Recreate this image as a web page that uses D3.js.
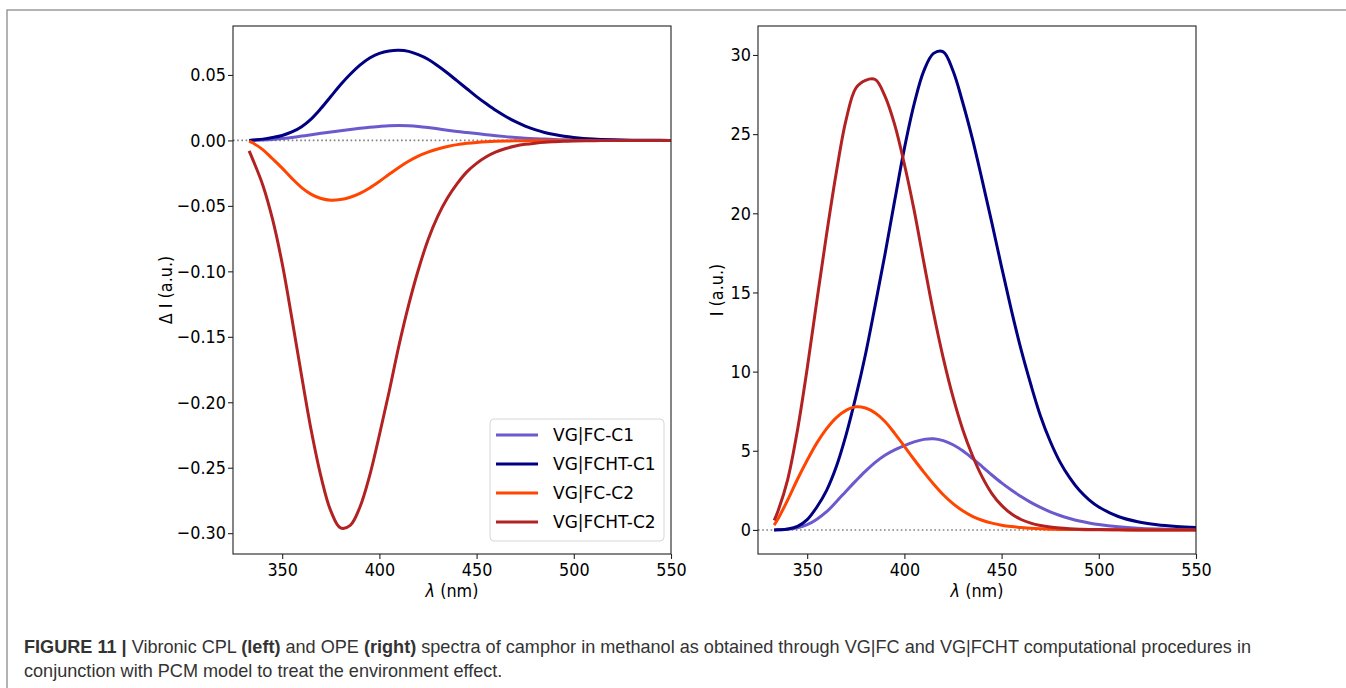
<!DOCTYPE html>
<html>
<head>
<meta charset="utf-8">
<script src="https://cdn.jsdelivr.net/npm/d3@7"></script>
<style>
  body { margin: 0; background: #fff; }
  svg { display: block; }
  .tick text { font-family: "DejaVu Sans", sans-serif; font-size: 18px; fill: #000; }
  .axis-label { font-family: "DejaVu Sans", sans-serif; font-size: 18px; fill: #000; }
  .legend text { font-family: "DejaVu Sans", sans-serif; font-size: 17px; fill: #000; }
  .caption { font-family: "Liberation Sans", Arial, sans-serif; font-size: 18.1px; fill: #333; }
</style>
</head>
<body>
<svg id="chart" width="1346" height="688"></svg>
<script>
// wavelength grid (nm), shared by every series
const wavelength = [333, 335, 340, 345, 350, 355, 360, 365, 370, 375, 380, 385, 390, 395, 400,
  405, 410, 415, 420, 425, 430, 435, 440, 445, 450, 455, 460, 465, 470, 475, 480, 485, 490, 495,
  500, 510, 520, 530, 540, 550];

const seriesNames = ["VG|FC-C1", "VG|FCHT-C1", "VG|FC-C2", "VG|FCHT-C2"];
const seriesColors = ["#6a5acd", "#000080", "#ff4500", "#b22222"];

// left panel: CPL, delta I
const cplFcC1 = [0.0000, 0.0001, 0.0003, 0.0007, 0.0014, 0.0023, 0.0033, 0.0043, 0.0054, 0.0064,
  0.0074, 0.0084, 0.0093, 0.0101, 0.0107, 0.0112, 0.0114, 0.0112, 0.0107, 0.0099, 0.0089, 0.0078,
  0.0068, 0.0060, 0.0052, 0.0044, 0.0036, 0.0029, 0.0022, 0.0017, 0.0013, 0.0010, 0.0007, 0.0005,
  0.0004, 0.0002, 0.0001, 0.0000, 0.0000, 0.0000];
const cplFchtC1 = [0.0000, 0.0003, 0.0010, 0.0022, 0.0038, 0.0065, 0.0105, 0.0165, 0.0245, 0.0335,
  0.0425, 0.0505, 0.0575, 0.0630, 0.0665, 0.0683, 0.0688, 0.0680, 0.0655, 0.0620, 0.0570, 0.0515,
  0.0455, 0.0395, 0.0335, 0.0280, 0.0228, 0.0183, 0.0143, 0.0110, 0.0083, 0.0061, 0.0045, 0.0032,
  0.0023, 0.0011, 0.0005, 0.0002, 0.0001, 0.0000];
const cplFcC2 = [-0.0005, -0.0020, -0.0070, -0.0140, -0.0212, -0.0290, -0.0360, -0.0412, -0.0444,
  -0.0457, -0.0452, -0.0434, -0.0404, -0.0363, -0.0313, -0.0259, -0.0206, -0.0159, -0.0120, -0.0090,
  -0.0066, -0.0047, -0.0032, -0.0022, -0.0015, -0.0010, -0.0007, -0.0005, -0.0003, -0.0002, -0.0001,
  -0.0001, 0.0000, 0.0000, 0.0000, 0.0000, 0.0000, 0.0000, 0.0000, 0.0000];
const cplFchtC2 = [-0.0080, -0.0150, -0.0340, -0.0600, -0.0940, -0.1360, -0.1800, -0.2220, -0.2570,
  -0.2830, -0.2960, -0.2940, -0.2800, -0.2560, -0.2250, -0.1920, -0.1570, -0.1260, -0.0990, -0.0760,
  -0.0580, -0.0440, -0.0330, -0.0240, -0.0175, -0.0125, -0.0088, -0.0062, -0.0043, -0.0030, -0.0021,
  -0.0014, -0.0010, -0.0007, -0.0005, -0.0002, -0.0001, 0.0000, 0.0000, 0.0000];

// right panel: OPE, I
const opeFcC1 = [0.00, 0.01, 0.04, 0.13, 0.33, 0.68, 1.15, 1.78, 2.45, 3.10, 3.72, 4.27, 4.72, 5.06,
  5.33, 5.56, 5.72, 5.76, 5.64, 5.38, 5.00, 4.52, 4.00, 3.47, 2.97, 2.52, 2.11, 1.74, 1.42, 1.14,
  0.91, 0.72, 0.56, 0.44, 0.34, 0.20, 0.11, 0.06, 0.03, 0.02];
const opeFchtC1 = [0.00, 0.01, 0.06, 0.22, 0.65, 1.45, 2.50, 4.00, 6.00, 8.40, 11.1, 14.2, 17.4, 20.8,
  24.1, 26.9, 29.0, 30.1, 30.2, 29.0, 27.0, 24.7, 22.1, 19.4, 16.6, 13.9, 11.4, 9.20, 7.20, 5.60,
  4.30, 3.30, 2.50, 1.90, 1.45, 0.85, 0.52, 0.33, 0.22, 0.15];
const opeFcC2 = [0.30, 0.70, 1.90, 3.20, 4.40, 5.50, 6.40, 7.10, 7.55, 7.78, 7.70, 7.38, 6.85, 6.10,
  5.28, 4.45, 3.65, 2.90, 2.22, 1.66, 1.21, 0.86, 0.61, 0.43, 0.30, 0.21, 0.15, 0.10, 0.07, 0.05,
  0.035, 0.025, 0.02, 0.015, 0.01, 0.005, 0.00, 0.00, 0.00, 0.00];
const opeFchtC2 = [0.60, 1.20, 3.20, 6.30, 10.2, 14.5, 18.7, 22.6, 25.9, 27.9, 28.4, 28.45, 27.4, 25.6,
  23.1, 20.2, 16.9, 13.7, 10.85, 8.40, 6.35, 4.70, 3.35, 2.30, 1.55, 1.02, 0.66, 0.43, 0.28, 0.18,
  0.12, 0.08, 0.05, 0.03, 0.02, 0.01, 0.00, 0.00, 0.00, 0.00];

const xTicks = [350, 400, 450, 500, 550];
const cplTicks = [0.05, 0.00, -0.05, -0.10, -0.15, -0.20, -0.25, -0.30];
const opeTicks = [0, 5, 10, 15, 20, 25, 30];

const captionLine1 = [
  { t: "FIGURE 11 |", b: true }, { t: " Vibronic CPL " }, { t: "(left)", b: true },
  { t: " and OPE " }, { t: "(right)", b: true },
  { t: " spectra of camphor in methanol as obtained through VG|FC and VG|FCHT computational procedures in" }
];
const captionLine2 = "conjunction with PCM model to treat the environment effect.";

// matplotlib text in the picture is a bit narrower than DejaVu
const squeeze = "scale(0.89,1)";

const svg = d3.select("#chart");

// page frame
svg.append("path")
  .attr("d", "M7,688V10H1346")
  .attr("fill", "none")
  .attr("stroke", "#9a9a9a")
  .attr("stroke-width", 1.5);

const plotTop = 26, plotBottom = 554;

function drawPanel(left, right, yDomain, yTicks, yFormat, series, yLabel, labelX, withLegend) {
  const x = d3.scaleLinear().domain([324.7, 550]).range([left, right]);
  const y = d3.scaleLinear().domain(yDomain).range([plotBottom, plotTop]);
  const g = svg.append("g");

  // zero reference line
  g.append("line")
    .attr("x1", left).attr("x2", right)
    .attr("y1", y(0)).attr("y2", y(0))
    .attr("stroke", "#808080")
    .attr("stroke-width", 1.6)
    .attr("stroke-dasharray", "1.6,2.6");

  const line = d3.line()
    .x((d, i) => x(wavelength[i]))
    .y(d => y(d))
    .curve(d3.curveCatmullRom.alpha(0.5));

  series.forEach((s, i) => {
    g.append("path")
      .datum(s)
      .attr("fill", "none")
      .attr("stroke", seriesColors[i])
      .attr("stroke-width", 3)
      .attr("stroke-linejoin", "round")
      .attr("d", line);
  });

  // frame of the axes
  g.append("rect")
    .attr("x", left).attr("y", plotTop)
    .attr("width", right - left).attr("height", plotBottom - plotTop)
    .attr("fill", "none")
    .attr("stroke", "#222")
    .attr("stroke-width", 1.1);

  const xAxis = g.append("g")
    .attr("transform", `translate(0,${plotBottom})`)
    .call(d3.axisBottom(x).tickValues(xTicks).tickSize(5).tickPadding(4).tickSizeOuter(0));
  const yAxis = g.append("g")
    .attr("transform", `translate(${left},0)`)
    .call(d3.axisLeft(y).tickValues(yTicks).tickFormat(yFormat).tickSize(5).tickPadding(3).tickSizeOuter(0));
  [xAxis, yAxis].forEach(a => {
    a.select(".domain").remove();
    a.selectAll(".tick line").attr("stroke", "#222").attr("stroke-width", 1.1);
    a.selectAll(".tick text").attr("transform", squeeze);
    a.attr("font-family", null).attr("font-size", null);
  });

  g.append("text")
    .attr("class", "axis-label")
    .attr("transform", `translate(${labelX},${(plotTop + plotBottom) / 2}) rotate(-90) ${squeeze}`)
    .attr("text-anchor", "middle")
    .attr("dominant-baseline", "central")
    .text(yLabel);

  const xl = g.append("text")
    .attr("class", "axis-label")
    .attr("transform", `translate(${(left + right) / 2},597) ${squeeze}`)
    .attr("text-anchor", "middle");
  xl.append("tspan").attr("font-style", "italic").text("λ");
  xl.append("tspan").text("\u00a0(nm)");

  if (withLegend) {
    const lg = g.append("g").attr("class", "legend");
    lg.append("rect")
      .attr("x", 490).attr("y", 419)
      .attr("width", right - 7 - 490).attr("height", 122)
      .attr("rx", 4)
      .attr("fill", "#fff").attr("fill-opacity", 0.8)
      .attr("stroke", "#d6d6d6");
    seriesNames.forEach((name, i) => {
      const cy = 435 + i * 29;
      lg.append("line")
        .attr("x1", 496).attr("x2", 538)
        .attr("y1", cy).attr("y2", cy)
        .attr("stroke", seriesColors[i]).attr("stroke-width", 3);
      lg.append("text")
        .attr("x", 553).attr("y", cy)
        .attr("dominant-baseline", "central")
        .text(name);
    });
  }
}

drawPanel(233, 671, [-0.3159, 0.0874], cplTicks, d3.format(".2f"),
  [cplFcC1, cplFchtC1, cplFcC2, cplFchtC2], "Δ I (a.u.)", 166, true);
drawPanel(758, 1196, [-1.52, 31.83], opeTicks, d3.format("d"),
  [opeFcC1, opeFchtC1, opeFcC2, opeFchtC2], "I (a.u.)", 717, false);

// caption
const cap1 = svg.append("text").attr("class", "caption").attr("x", 24).attr("y", 653);
captionLine1.forEach(p => {
  cap1.append("tspan").attr("font-weight", p.b ? "bold" : null).text(p.t);
});
svg.append("text").attr("class", "caption").attr("x", 24).attr("y", 677).text(captionLine2);
</script>
</body>
</html>
